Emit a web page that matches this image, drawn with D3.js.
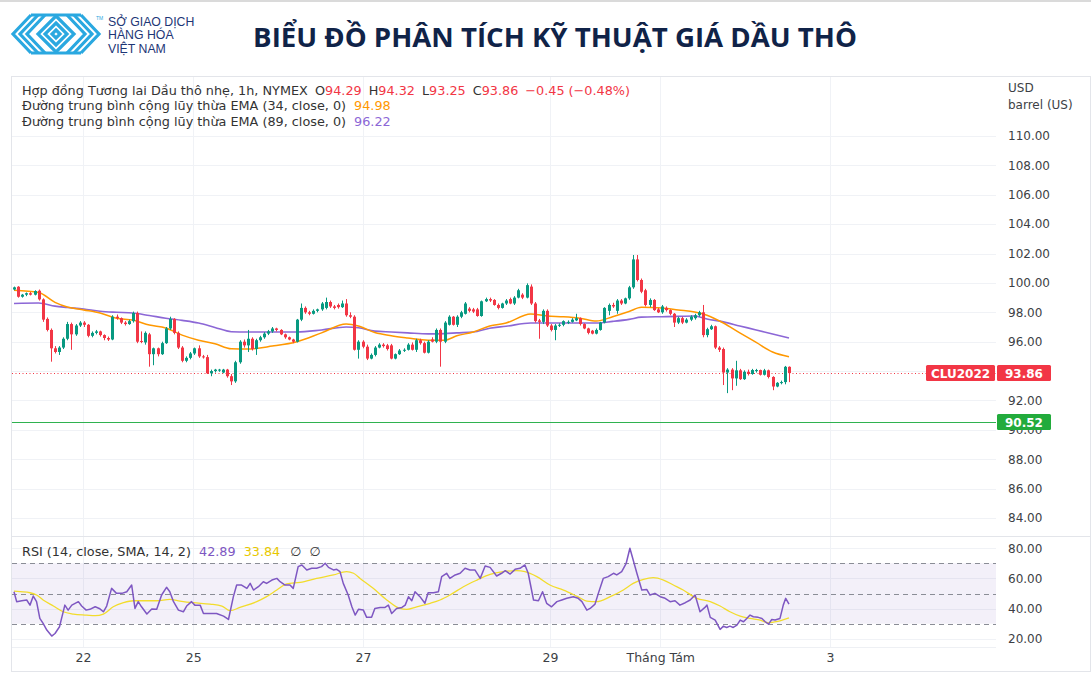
<!DOCTYPE html>
<html><head><meta charset="utf-8">
<script src="https://cdn.jsdelivr.net/npm/d3@7/dist/d3.min.js"></script>
<style>body{margin:0;background:#fff;}svg{display:block;}</style>
</head><body>
<svg id="c" width="1091" height="675"></svg>
<script>
// ---------- DATA (hourly candles, CLU2022) ----------
const opens = [99.55,99.74,99.06,99.20,99.30,99.20,99.47,98.88,97.55,96.80,95.55,95.30,95.60,96.20,97.20,96.50,97.10,97.30,97.15,96.40,
96.60,96.70,96.45,96.25,96.15,97.70,97.60,97.30,97.20,97.40,97.95,96.05,95.95,96.50,95.15,95.55,95.15,95.90,96.90,97.55,
96.60,95.60,94.70,94.90,95.20,95.55,95.00,94.95,93.85,94.00,94.05,93.90,94.10,93.65,93.30,94.60,96.00,95.75,96.20,95.50,
96.10,96.30,96.55,96.70,96.90,96.80,96.50,96.30,96.15,96.00,97.50,98.30,98.00,97.90,98.10,98.20,98.30,98.70,98.40,98.50,
98.35,98.60,97.80,97.70,95.45,96.00,95.66,94.85,95.10,95.60,95.80,95.75,95.75,94.85,95.15,95.40,95.45,95.80,95.45,96.10,
95.90,95.25,96.15,96.00,96.80,96.00,97.15,97.70,97.15,97.70,97.90,98.25,98.20,98.20,97.75,98.75,98.90,98.84,98.50,98.30,
98.60,98.90,98.60,99.00,99.20,99.00,99.75,98.60,97.45,97.35,98.10,97.10,96.80,97.10,97.15,97.30,97.35,97.45,97.60,97.20,
96.90,96.75,96.55,96.80,97.30,98.10,98.50,98.10,98.80,98.60,98.95,99.70,101.60,100.20,99.50,98.50,98.84,98.20,98.00,98.30,
98.15,97.90,97.30,97.60,97.30,97.50,97.60,97.80,98.00,96.45,96.85,97.05,95.60,95.50,93.90,94.10,93.50,94.05,93.45,93.95,
93.80,94.00,94.07,93.75,94.05,93.60,92.95,93.20,93.25,94.29];
const highs = [99.75,99.78,99.25,99.35,99.38,99.50,99.55,98.95,97.65,96.90,95.70,95.70,96.30,97.35,97.30,97.20,97.40,97.40,97.20,96.70,
96.80,96.75,96.50,96.35,97.80,97.85,97.65,97.40,97.50,98.05,98.05,96.70,96.70,96.60,95.60,95.60,96.00,97.00,97.70,97.60,
96.70,95.70,95.00,95.30,95.60,95.75,95.10,95.10,94.10,94.15,94.15,94.15,94.15,93.80,94.70,96.10,96.15,96.80,96.30,96.20,
96.40,96.65,96.80,97.00,96.95,96.85,96.55,96.35,96.20,97.55,98.60,98.40,98.10,98.20,98.25,98.70,99.00,98.80,98.50,98.60,
98.80,98.90,98.00,97.80,96.10,96.10,95.80,95.20,95.70,95.90,95.90,95.85,95.85,95.20,95.50,95.55,95.90,95.95,96.20,96.20,
96.00,96.10,96.30,96.90,96.90,97.40,97.80,97.75,97.80,98.10,98.70,98.35,98.30,98.30,98.80,99.00,99.00,98.90,98.60,98.65,
98.90,99.00,99.10,99.60,99.30,99.97,99.90,98.70,97.55,98.20,98.20,97.20,97.20,97.25,97.45,97.45,97.60,97.90,97.65,97.25,
96.95,96.80,96.90,97.35,98.35,98.60,98.65,98.90,98.90,99.00,99.80,101.90,101.90,100.30,99.60,98.95,98.90,98.30,98.50,98.40,
98.20,97.95,97.70,97.70,97.60,97.80,97.90,98.10,98.50,96.95,97.15,97.10,95.70,95.60,94.20,94.20,94.70,94.15,94.05,94.10,
94.15,94.15,94.10,94.15,94.10,93.65,93.25,93.35,94.35,94.32];
const lows = [99.50,99.00,99.00,99.10,99.15,99.15,98.80,97.35,96.70,94.64,95.20,95.10,95.50,96.10,95.45,96.40,97.00,97.00,96.30,96.30,
96.50,96.35,96.10,96.05,96.10,97.50,97.20,97.10,97.15,97.30,95.90,95.90,95.80,94.30,94.40,95.00,95.10,95.85,96.80,96.50,
95.50,94.60,94.60,94.80,95.10,94.90,94.85,93.80,93.65,93.90,93.95,93.85,93.55,93.05,93.20,94.50,95.60,95.30,95.40,95.10,
96.00,96.20,96.45,96.60,96.70,96.45,96.20,96.10,95.90,95.95,97.40,97.90,97.80,97.85,98.00,98.10,98.20,98.30,98.20,98.25,
98.30,97.70,97.60,95.40,94.85,95.55,94.75,94.80,95.00,95.55,95.60,95.40,94.80,94.80,95.10,95.30,95.40,95.40,95.30,95.80,
95.20,95.20,95.95,95.90,94.30,95.90,97.10,97.10,97.00,97.60,97.85,98.00,97.95,97.70,97.70,98.70,98.70,98.45,98.20,98.25,
98.50,98.55,98.50,98.95,98.90,98.95,98.50,97.30,96.20,97.20,97.00,96.70,96.10,97.00,97.05,97.20,97.30,97.40,97.10,96.85,
96.50,96.50,96.50,96.75,97.25,97.80,98.30,97.90,98.50,98.55,98.85,99.60,100.10,99.30,98.40,98.35,98.10,97.95,97.90,98.05,
97.80,97.00,97.20,97.20,97.25,97.40,97.50,97.70,96.30,96.30,96.80,95.50,95.30,93.05,92.50,92.70,93.00,93.40,93.40,93.70,
93.75,93.90,93.70,93.70,93.50,92.70,92.90,93.10,93.10,93.25];
const closes = [99.70,99.06,99.20,99.30,99.20,99.45,98.88,97.50,96.80,95.55,95.30,95.60,96.20,97.20,96.50,97.10,97.30,97.15,96.40,96.60,
96.70,96.45,96.25,96.15,97.70,97.60,97.30,97.20,97.40,97.95,96.00,96.00,96.60,95.15,95.55,95.15,95.90,96.90,97.55,96.60,
95.60,94.70,94.90,95.20,95.55,95.00,94.95,93.85,94.00,94.10,94.10,94.10,93.65,93.30,94.60,96.00,95.75,96.20,95.50,96.10,
96.30,96.55,96.70,96.90,96.80,96.50,96.30,96.15,96.00,97.50,98.30,98.00,97.90,98.10,98.20,98.60,98.70,98.40,98.30,98.35,
98.60,97.80,97.70,95.45,96.00,95.66,94.85,95.10,95.60,95.80,95.70,95.50,94.85,95.15,95.40,95.45,95.80,95.45,96.10,95.90,
95.25,96.00,96.00,96.80,96.00,97.30,97.70,97.15,97.70,98.00,98.60,98.10,98.05,97.75,98.75,98.90,98.80,98.50,98.30,98.60,
98.80,98.60,99.00,99.50,99.00,99.85,98.60,97.40,97.35,98.10,97.10,96.80,97.10,97.15,97.40,97.35,97.50,97.60,97.20,96.90,
96.60,96.55,96.80,97.30,98.30,98.50,98.40,98.80,98.60,98.95,99.70,101.60,100.20,99.40,98.50,98.84,98.15,98.00,98.40,98.15,
97.90,97.30,97.60,97.30,97.50,97.70,97.80,98.00,96.45,96.85,97.05,95.60,95.45,93.90,94.10,93.50,94.05,93.45,93.95,93.80,
94.07,94.07,93.75,94.05,93.60,92.95,93.20,93.25,94.29,93.86];

const emaIdx = [0,6,10,13,17,21,25,29,33,37,41,45,49,53,57,63,69,75,81,84,88,92,96,101,105,108,112,116,120,126,130,134,138,142,146,150,153,158,162,166,169,173,177,181,185,189];
const ema34  = [99.50,99.35,98.68,98.36,98.16,97.95,97.60,97.47,97.13,96.93,96.45,96.10,95.86,95.52,95.50,95.70,96.00,96.60,97.20,97.07,96.62,96.40,96.25,96.10,96.10,96.40,96.66,97.07,97.27,97.88,97.75,97.70,97.60,97.40,97.70,98.05,98.34,98.30,98.16,98.02,97.80,97.27,96.60,95.95,95.30,94.98];
const ema89  = [98.60,98.63,98.42,98.33,98.22,98.07,98.00,97.95,97.78,97.60,97.45,97.27,96.97,96.68,96.66,96.66,96.66,96.80,97.00,96.95,96.72,96.66,96.60,96.53,96.55,96.60,96.66,96.92,97.05,97.27,97.27,97.27,97.27,97.27,97.38,97.52,97.67,97.70,97.72,97.75,97.55,97.35,97.07,96.80,96.52,96.25];

// RSI (14) and its SMA (14)
const rsiIdx = [0,0.65,1.9,3.1,3.9,4.7,5.5,6.3,7.1,8.0,9.2,10,11.1,11.6,12.4,13.2,14.1,15.7,16.5,17.6,18.5,19.8,20.8,21.8,22.6,23.8,25.0,26.3,27.5,28.7,29.5,30.3,31.1,32.4,33.6,34.8,36.0,37.2,38.0,38.9,40.1,41.3,42.1,43.3,44.1,45.4,46.2,47.4,49.4,51.1,52.3,53.5,54.3,55.5,56.8,57.6,58.4,59.6,60.8,61.6,62.9,64.1,64.9,66.1,67.3,68.1,69.3,70.2,71.4,72.6,73.8,75.0,75.9,76.7,77.9,78.7,79.5,80.3,81.5,82.4,83.2,84.0,85.2,86.0,87.2,88.0,89.3,90.5,91.3,92.1,93.3,94.6,95.4,96.2,97.0,97.8,99.0,100.2,101.0,102.3,103.5,104.3,105.5,106.3,107.6,108.8,110.0,111.2,112.4,113.7,114.9,116.1,117.7,118.9,119.8,121.0,122.2,123.4,124.6,125.4,126.7,127.9,128.9,129.9,131.1,132.4,133.6,134.8,136.4,137.6,138.5,139.7,140.5,141.7,142.5,143.7,144.9,146.2,147.0,148.2,149.3,150.2,151.0,151.9,153.1,154.3,155.1,156.3,157.6,158.8,160.0,161.2,162.4,163.7,164.9,166.1,167.3,168.5,169.0,169.8,171.0,172.2,173.0,173.8,174.6,175.4,176.3,177.1,177.9,178.7,179.5,180.3,181.5,182.4,183.2,184.0,184.8,185.6,186.8,187.6,188.2,189];
const rsiVal = [51.2,44.6,45.2,45.7,42.3,48.3,44.6,33.5,30.2,25.8,21.8,23.5,28.0,33.5,42.3,39.0,42.3,44.6,41.7,39.0,39.5,41.2,40.1,37.9,41.7,53.4,50.1,50.1,51.2,55.6,40.1,44.6,41.2,36.4,39.7,39.5,49.0,54.1,51.2,44.6,39.0,37.9,41.7,44.6,42.3,42.3,36.8,36.8,36.8,35.0,32.8,47.9,55.6,55.6,53.4,56.7,52.3,54.5,57.8,56.7,58.9,60.0,57.8,55.6,55.6,53.4,67.8,68.9,65.6,66.7,66.7,67.8,70.0,67.3,65.6,66.0,64.5,56.7,49.0,41.2,35.7,39.5,39.0,34.2,34.2,40.1,40.8,40.8,42.3,36.8,40.1,40.8,42.3,47.9,45.2,51.2,47.9,43.5,50.5,50.5,51.2,61.2,63.4,60.0,62.3,63.4,66.7,65.6,65.6,60.0,68.2,67.3,61.6,63.4,65.1,62.9,66.0,66.7,68.9,63.4,45.7,45.2,51.2,43.5,41.2,44.6,45.7,46.8,47.9,46.8,44.6,39.0,40.1,43.0,50.1,60.0,61.2,63.4,62.3,64.5,70.0,80.0,72.2,63.4,52.3,52.7,49.0,50.1,47.9,46.8,44.6,45.2,42.3,43.9,45.7,49.0,37.9,40.8,42.3,34.2,32.4,26.2,28.4,27.5,28.4,27.5,29.1,32.4,31.3,33.5,35.7,34.6,34.2,33.5,31.3,29.7,32.8,32.4,33.5,42.3,46.8,42.89];
const smaIdx = [0,1.5,3.9,5.5,7.1,9.6,12.0,14.5,17.7,19.8,21.8,24.2,26.7,29.1,31.5,34.8,38.0,40.5,43.7,47.8,50.7,52.7,55.1,59.2,61.6,64.1,66.5,69.8,73.8,77.9,81.1,82.8,84.4,87.6,90.9,94.1,95.8,98.2,101.5,103.9,106.3,109.6,112.9,116.1,119.3,122.6,124.6,127.5,130.7,134.0,137.2,139.7,142.1,145.4,148.6,151.0,153.5,155.9,158.4,160.8,163.2,166.5,169.8,172.2,174.6,177.1,179.5,182.0,184.0,185.2,186.8,189];
const smaVal = [51.6,51.2,50.5,49.0,45.7,41.7,37.9,36.4,35.7,35.3,36.4,41.2,43.9,45.2,45.2,45.2,46.1,45.0,43.9,43.0,41.7,38.6,40.8,44.6,47.9,52.3,56.3,57.4,60.0,62.3,64.5,63.4,60.0,53.4,45.7,40.1,39.5,41.2,43.5,45.7,49.0,54.5,58.9,62.7,64.5,65.1,64.5,61.2,55.6,52.3,48.3,45.0,44.6,47.9,52.3,56.7,59.4,60.5,58.9,55.6,52.3,46.8,44.6,41.7,37.9,35.0,33.5,32.4,30.6,31.1,31.9,33.84];

const priceTicks = [110,108,106,104,102,100,98,96,94,92,90,88,86,84];
const priceLabelTicks = [110,108,106,104,102,100,98,96,92,90,88,86,84]; // 94.00 hidden behind last-price label
const rsiTicks = [80,60,40,20];
const rsiLevels = [70,50,30];
const dayTickIdx = [16.8,43.7,85.1,130.7,157.6,199];
const dayTickLabels = ["22","25","27","29","Tháng Tám","3"];
const supportLevel = 90.52;
const symbolName = "CLU2022";
const changeText = "\u22120.45 (\u22120.48%)";
const rsiLast = "42.89", smaLast = "33.84";
const ema34Last = "94.98", ema89Last = "96.22";

// ---------- LAYOUT ----------
const svg = d3.select("#c");
const L = 12, R = 996, mainTop = 77, mainBot = 536, rsiTop = 537, rsiBot = 647;
const n = closes.length;
const x = d3.scaleLinear().domain([0, 189]).range([14, 789]);
const yP = d3.scaleLinear().domain([84, 110]).range([518, 136]);
const yR = d3.scaleLinear().domain([20, 80]).range([638.8, 548.2]);
const GREEN = "#089981", RED = "#f23645", ORANGE = "#ff9800", PURPLE = "#8c67d6";
const RSICOL = "#7e57c2", YEL = "#f2dc2c";
const font = "DejaVu Sans";
const LEGFS = 12.8;

// top thin gray rule
svg.append("rect").attr("x",0).attr("y",0).attr("width",1091).attr("height",2).attr("fill","#dadada");

// ---------- HEADER ----------
const logo = svg.append("g").attr("fill","none").attr("stroke","#2aa8e0").attr("stroke-width",3.2).attr("stroke-linejoin","miter");
for (let k = 0; k < 3; k++) {
  logo.append("polyline").attr("points", `${31+7*k},15 ${13+7*k},34 ${31+7*k},53`);
  logo.append("polyline").attr("points", `${81-7*k},15 ${99-7*k},34 ${81-7*k},53`);
}
[18, 11, 4].forEach(s => logo.append("polygon").attr("points", `56,${34-s} ${56+s},34 56,${34+s} ${56-s},34`));
logo.append("line").attr("x1",31).attr("y1",15).attr("x2",81).attr("y2",15);
logo.append("line").attr("x1",31).attr("y1",53).attr("x2",81).attr("y2",53);
svg.append("text").attr("x",96).attr("y",20).attr("font-size",5).attr("fill","#2aa8e0").attr("font-family","Liberation Sans").text("TM");
const logoText = ["SỞ GIAO DỊCH","HÀNG HÓA","VIỆT NAM"];
logoText.forEach((t,i) => svg.append("text").attr("x",108).attr("y",26 + i*13.3)
  .attr("font-family","Liberation Sans").attr("font-size",12.3).attr("fill","#1d3676").text(t));

const title = svg.append("text").attr("x",555).attr("y",47).attr("text-anchor","middle")
  .attr("font-family","Open Sans").attr("font-weight",700).attr("font-size",28).attr("fill","#102348")
  .text("BIỂU ĐỒ PHÂN TÍCH KỸ THUẬT GIÁ DẦU THÔ");
const tw = title.node().getComputedTextLength();
title.attr("font-size", 28 * 604 / tw);

// ---------- FRAME & GRID ----------
svg.append("rect").attr("x",L-0.5).attr("y",mainTop-0.5).attr("width",1091-L).attr("height",672-mainTop)
  .attr("fill","none").attr("stroke","#e3e5ea");
const grid = svg.append("g").attr("stroke","#f0f2f6").attr("stroke-width",1);
priceTicks.forEach(p => grid.append("line").attr("x1",L).attr("x2",R).attr("y1",Math.round(yP(p))+0.5).attr("y2",Math.round(yP(p))+0.5));
rsiTicks.forEach(p => grid.append("line").attr("x1",L).attr("x2",R).attr("y1",Math.round(yR(p))+0.5).attr("y2",Math.round(yR(p))+0.5));
dayTickIdx.forEach(d => grid.append("line").attr("x1",Math.round(x(d))+0.5).attr("x2",Math.round(x(d))+0.5).attr("y1",mainTop).attr("y2",rsiBot));
svg.append("line").attr("x1",L).attr("x2",1091).attr("y1",rsiTop-0.5).attr("y2",rsiTop-0.5).attr("stroke","#e3e5ea");
svg.append("line").attr("x1",L).attr("x2",R).attr("y1",rsiBot+0.5).attr("y2",rsiBot+0.5).attr("stroke","#eef0f4");

// ---------- MAIN PANE ----------
const emaLine = arr => d3.line().x((d,i) => x(emaIdx[i])).y(d => yP(d)).curve(d3.curveMonotoneX)(arr);
svg.append("path").attr("d", emaLine(ema89)).attr("fill","none").attr("stroke",PURPLE).attr("stroke-width",1.6);
svg.append("path").attr("d", emaLine(ema34)).attr("fill","none").attr("stroke",ORANGE).attr("stroke-width",1.5);

const yLast = yP(closes[n-1]);
svg.append("line").attr("x1",L).attr("x2",R).attr("y1",Math.round(yLast)+0.5).attr("y2",Math.round(yLast)+0.5)
  .attr("stroke",RED).attr("stroke-dasharray","1,2.5");
svg.append("line").attr("x1",L).attr("x2",R).attr("y1",Math.round(yP(supportLevel))+0.5).attr("y2",Math.round(yP(supportLevel))+0.5)
  .attr("stroke","#2fb24f").attr("stroke-width",1.2);

const cg = svg.append("g");
for (let i = 0; i < n; i++) {
  const cx = Math.round(x(i));
  const up = closes[i] >= opens[i];
  const col = up ? GREEN : RED;
  cg.append("rect").attr("x",cx).attr("width",1).attr("y",yP(highs[i])).attr("height",Math.max(1,yP(lows[i])-yP(highs[i]))).attr("fill",col);
  const yt = yP(Math.max(opens[i],closes[i])), yb = yP(Math.min(opens[i],closes[i]));
  cg.append("rect").attr("x",cx-1).attr("width",3).attr("y",yt).attr("height",Math.max(1,yb-yt)).attr("fill",col);
}

const pAxis = svg.append("g").attr("transform",`translate(${R},0)`)
  .call(d3.axisRight(yP).tickValues(priceLabelTicks).tickFormat(d => d.toFixed(2)).tickSize(0).tickPadding(12));
pAxis.select(".domain").remove();
pAxis.selectAll("text").attr("font-family",font).attr("font-size",12).attr("fill","#3d3f45");
svg.append("text").attr("x",1008).attr("y",92).attr("font-family",font).attr("font-size",12).attr("fill","#3d3f45").text("USD");
svg.append("text").attr("x",1008).attr("y",109).attr("font-family",font).attr("font-size",12).attr("fill","#3d3f45").text("barrel (US)");

const lab = (x0, w, yc, fill, txt) => {
  svg.append("rect").attr("x",x0).attr("y",Math.round(yc)-8).attr("width",w).attr("height",16).attr("rx",1.5).attr("fill",fill);
  svg.append("text").attr("x",x0+w/2).attr("y",Math.round(yc)+4.5).attr("text-anchor","middle")
    .attr("font-family",font).attr("font-weight",700).attr("font-size",12).attr("fill","#fff").text(txt);
};
lab(926, 69, yLast, RED, symbolName);
lab(997, 54, yLast, RED, closes[n-1].toFixed(2));
lab(997, 54, yP(supportLevel), "#22ab3c", supportLevel.toFixed(2));

const lg = svg.append("g").attr("font-family",font).attr("font-size",LEGFS);
const l1 = lg.append("text").attr("x",22).attr("y",95).attr("fill","#333");
l1.append("tspan").text("Hợp đồng Tương lai Dầu thô nhẹ, 1h, NYMEX");
[["O",opens[n-1]],["H",highs[n-1]],["L",lows[n-1]],["C",closes[n-1]]].forEach(([k,v],j) => {
  l1.append("tspan").attr("dx", j===0 ? 8 : 7).text(k);
  l1.append("tspan").attr("fill",RED).text(v.toFixed(2));
});
l1.append("tspan").attr("dx",7).attr("fill",RED).text(changeText);
const l2 = lg.append("text").attr("x",22).attr("y",110).attr("fill","#333");
l2.append("tspan").text("Đường trung bình cộng lũy thừa EMA (34, close, 0)");
l2.append("tspan").attr("dx",8).attr("fill",ORANGE).text(ema34Last);
const l3 = lg.append("text").attr("x",22).attr("y",125.5).attr("fill","#333");
l3.append("tspan").text("Đường trung bình cộng lũy thừa EMA (89, close, 0)");
l3.append("tspan").attr("dx",8).attr("fill",PURPLE).text(ema89Last);

// ---------- RSI PANE ----------
svg.append("rect").attr("x",L).attr("width",R-L).attr("y",yR(70)).attr("height",yR(30)-yR(70)).attr("fill","#7e57c2").attr("fill-opacity",0.09);
rsiLevels.forEach(v => svg.append("line").attr("x1",L).attr("x2",R).attr("y1",Math.round(yR(v))+0.5).attr("y2",Math.round(yR(v))+0.5)
  .attr("stroke","#8a8d96").attr("stroke-dasharray","5,4"));
const smaLine = d3.line().x((d,i) => x(smaIdx[i])).y(d => yR(d)).curve(d3.curveMonotoneX);
svg.append("path").attr("d", smaLine(smaVal)).attr("fill","none").attr("stroke",YEL).attr("stroke-width",1.3);
const rsiLine = d3.line().x((d,i) => x(rsiIdx[i])).y(d => yR(d));
svg.append("path").attr("d", rsiLine(rsiVal)).attr("fill","none").attr("stroke",RSICOL).attr("stroke-width",1.5).attr("stroke-linejoin","round");

const rAxis = svg.append("g").attr("transform",`translate(${R},0)`)
  .call(d3.axisRight(yR).tickValues(rsiTicks).tickFormat(d => d.toFixed(2)).tickSize(0).tickPadding(12));
rAxis.select(".domain").remove();
rAxis.selectAll("text").attr("font-family",font).attr("font-size",12).attr("fill","#3d3f45");

const rl = svg.append("text").attr("x",22).attr("y",555.5).attr("font-family",font).attr("font-size",LEGFS).attr("fill","#333");
rl.append("tspan").text("RSI (14, close, SMA, 14, 2)");
rl.append("tspan").attr("dx",8).attr("fill",RSICOL).text(rsiLast);
rl.append("tspan").attr("dx",8).attr("fill","#e8c800").text(smaLast);
rl.append("tspan").attr("dx",10).text("∅");
rl.append("tspan").attr("dx",8).text("∅");

// ---------- TIME AXIS ----------
const xAxis = svg.append("g").attr("transform",`translate(0,${rsiBot})`)
  .call(d3.axisBottom(x).tickValues(dayTickIdx).tickFormat((d,i) => dayTickLabels[i]).tickSize(0).tickPadding(6));
xAxis.select(".domain").remove();
xAxis.selectAll("text").attr("font-family",font).attr("font-size",12.5).attr("fill","#3d3f45");
</script>
</body></html>
